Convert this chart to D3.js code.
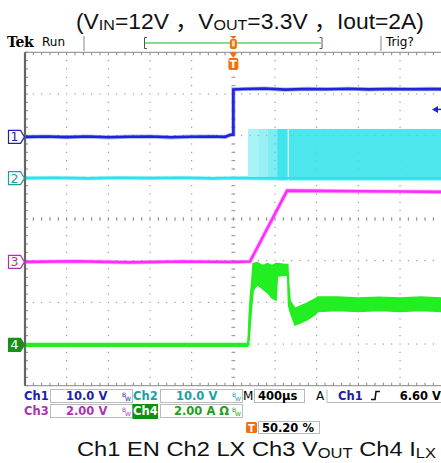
<!DOCTYPE html>
<html><head><meta charset="utf-8">
<script src="https://cdn.jsdelivr.net/npm/d3@7"></script>
<style>body{margin:0;background:#fff}svg{display:block}</style>
</head><body>
<svg id="c" width="441" height="463"></svg>
<script>
// ---------------- data ----------------
const timePerDiv = 400;                 // µs / div
const timeLabel = "400µs";
const triggerPosLabel = "50.20 %";
const triggerLevel = 6.60;              // Ch1, V
const triggerLabel = "6.60 V";
const channelNames = ["Ch1", "Ch2", "Ch3", "Ch4"];
const channelPerDiv = [10, 10, 2, 2];
const channelScaleLabels = ["10.0 V", "10.0 V", "2.00 V", "2.00 A Ω"];
const channelOffsets = [1.97, 0.98, -1.03, -3.02];   // divisions
const titleParts = [["(V", 0], ["IN", 1], ["=12V ，V", 0], ["OUT", 1], ["=3.3V ，Iout=2A)", 0]];
const captionParts = [["Ch1 EN Ch2 LX Ch3 V", 0], ["OUT", 1], [" Ch4 I", 0], ["LX", 1]];

// Ch1 EN [µs, V]
const ch1EN = [[-2000,0.0],[-1800,0.1],[-1600,-0.05],[-1400,0.1],[-1200,-0.1],[-1000,0.05],[-800,0.1],[-600,-0.1],[-400,0.05],[-200,0.1],[-80,0.0],[-40,0.4],[-5,0.6],[0,0.6],[0,11.4],[100,11.5],[300,11.6],[500,11.35],[700,11.5],[900,11.45],[1100,11.55],[1300,11.4],[1500,11.5],[1700,11.45],[1900,11.5],[2000,11.45]];
// Ch2 LX idle [µs, V]
const ch2Idle = [[-2000,0.0],[-1700,0.1],[-1400,-0.05],[-1100,0.1],[-800,0.0],[-500,0.1],[-200,-0.05],[0,0.05],[141,0.0]];
// Ch2 LX switching bursts [start µs, end µs, fill density]
const ch2BurstStart = [141, 240, 330, 420, 532];
const ch2BurstEnd   = [240, 330, 420, 522, 2000];
const ch2BurstDensity = [0.42, 0.5, 0.62, 0.9, 0.85];
const ch2High = 11.8, ch2Low = -0.55;
// Ch3 VOUT [µs, V]
const ch3Vout = [[-2000,0.0],[-1500,0.03],[-1000,-0.02],[-500,0.02],[0,0.0],[160,0.02],[516,3.42],[800,3.41],[1200,3.39],[1600,3.38],[2000,3.36]];
// Ch4 IL envelope [µs, low A, high A]
const ch4IL = [[-2000,-0.06,0.06],[-1000,-0.06,0.06],[0,-0.06,0.06],[138,-0.06,0.06],[145,0.0,0.5],[152,0.3,1.4],[165,1.2,2.4],[175,1.8,2.9],[190,2.6,3.9],[230,2.9,3.95],[280,2.7,3.8],[330,2.5,3.9],[370,2.25,3.8],[410,2.15,3.9],[422,3.3,3.9],[500,3.35,3.85],[522,3.3,3.85],[530,1.9,3.0],[545,1.6,2.1],[592,0.95,1.75],[640,1.05,1.85],[707,1.2,2.0],[784,1.45,2.2],[810,1.6,2.3],[1000,1.65,2.3],[1200,1.6,2.25],[1400,1.65,2.28],[1600,1.6,2.25],[1800,1.65,2.3],[2000,1.6,2.25]];

// ---------------- drawing ----------------
const svg = d3.select("#c");
const X0 = 25, X1 = 441.7, Y0 = 52.3, Y1 = 385.7;
const x = d3.scaleLinear().domain([-5*timePerDiv, 5*timePerDiv]).range([X0, X1]);
const yd = d3.scaleLinear().domain([-4, 4]).range([Y1, Y0]);
const chY = (i, v) => yd(v / channelPerDiv[i] + channelOffsets[i]);
const divPx = (X1 - X0) / 10;
const traceCol = ["#1d24dc", "#2fe2ea", "#ff2cff", "#22ee22"];
const labelCol = ["#2020a8", "#1aa0a0", "#b030b0", "#20a020"];

// fit a text element horizontally between x0 and x1
function fitText(sel, x0, x1) {
  const b = sel.node().getBBox();
  const s = (x1 - x0) / b.width;
  sel.attr("transform", `translate(${x0 - b.x * s},0) scale(${s},1)`);
}

// grid
const g = svg.append("g");
const gridCol = "#6f6f6f";
for (let i = -4; i <= 4; i++) {
  const xx = x(i * timePerDiv);
  d3.range(0, 40).forEach(k => {
    const yy = Y0 + k * divPx / 5;
    if (k % 5 === 0) return;
    g.append("rect").attr("x", xx - 0.5).attr("y", yy - 0.5).attr("width", 1).attr("height", 1).attr("fill", gridCol);
  });
}
for (let j = -3; j <= 3; j++) {
  const yy = yd(j);
  d3.range(0, 51).forEach(k => {
    const xx = X0 + k * divPx / 5;
    g.append("rect").attr("x", xx - 0.5).attr("y", yy - 0.5).attr("width", 1).attr("height", 1).attr("fill", gridCol);
  });
}
// center cross ticks
d3.range(0, 51).forEach(k => {
  const xx = X0 + k * divPx / 5;
  g.append("line").attr("x1", xx).attr("x2", xx).attr("y1", yd(0) - 2).attr("y2", yd(0) + 2).attr("stroke", "#888").attr("stroke-width", 0.8);
});
d3.range(0, 41).forEach(k => {
  const yy = Y0 + k * divPx / 5;
  g.append("line").attr("y1", yy).attr("y2", yy).attr("x1", x(0) - 2).attr("x2", x(0) + 2).attr("stroke", "#888").attr("stroke-width", 0.8);
});
// frame rulers
g.append("line").attr("x1", X0).attr("x2", 441).attr("y1", Y0).attr("y2", Y0).attr("stroke", "#888");
g.append("line").attr("x1", X0).attr("x2", 441).attr("y1", Y1).attr("y2", Y1).attr("stroke", "#888");
d3.range(0, 51).forEach(k => {
  const xx = X0 + k * divPx / 5;
  g.append("line").attr("x1", xx).attr("x2", xx).attr("y1", Y0).attr("y2", Y0 + 3).attr("stroke", "#888");
  g.append("line").attr("x1", xx).attr("x2", xx).attr("y1", Y1 - 3).attr("y2", Y1).attr("stroke", "#888");
});
d3.range(0, 41).forEach(k => {
  const yy = Y0 + k * divPx / 5;
  g.append("line").attr("y1", yy).attr("y2", yy).attr("x1", X0).attr("x2", X0 + 3).attr("stroke", "#888");
});
g.append("line").attr("x1", X0).attr("x2", X0).attr("y1", Y0).attr("y2", Y1).attr("stroke", "#666").attr("stroke-width", 2.2);

// clip
svg.append("clipPath").attr("id", "clp").append("rect").attr("x", X0 + 1).attr("y", Y0).attr("width", X1 - X0).attr("height", Y1 - Y0);
const tr = svg.append("g").attr("clip-path", "url(#clp)");

// Ch2 bursts
ch2BurstStart.forEach((s, k) => {
  tr.append("rect").attr("x", x(s)).attr("width", x(ch2BurstEnd[k]) - x(s))
    .attr("y", chY(1, ch2High)).attr("height", chY(1, ch2Low) - chY(1, ch2High))
    .attr("fill", traceCol[1]).attr("opacity", ch2BurstDensity[k]);
});
tr.append("line").attr("x1", x(ch2BurstStart[0])).attr("x2", X1).attr("y1", chY(1, 0)).attr("y2", chY(1, 0))
  .attr("stroke", traceCol[1]).attr("stroke-width", 2.5);
const line = (i) => d3.line().x(d => x(d[0])).y(d => chY(i, d[1]));
const drawTrace = (data, i) => {
  tr.append("path").datum(data).attr("d", line(i)).attr("fill", "none").attr("stroke", traceCol[i]).attr("stroke-width", 4.2).attr("opacity", 0.35);
  tr.append("path").datum(data).attr("d", line(i)).attr("fill", "none").attr("stroke", traceCol[i]).attr("stroke-width", 2.6);
};
drawTrace(ch2Idle, 1);
drawTrace(ch1EN, 0);
drawTrace(ch3Vout, 2);
// Ch4
const area4 = d3.area().x(d => x(d[0])).y0(d => chY(3, d[1])).y1(d => chY(3, d[2]));
tr.append("path").datum(ch4IL).attr("d", area4).attr("fill", traceCol[3]).attr("stroke", traceCol[3]).attr("stroke-width", 1.6);

// trigger level arrow
const ty = chY(0, triggerLevel);
svg.append("path").attr("d", `M432,${ty} L438,${ty-3.5} L438,${ty+3.5} Z`).attr("fill", traceCol[0]);
svg.append("line").attr("x1", 436).attr("x2", 441).attr("y1", ty).attr("y2", ty).attr("stroke", traceCol[0]).attr("stroke-width", 1.5);

// channel ground markers
channelNames.forEach((n, i) => {
  const yy = chY(i, 0);
  const mg = svg.append("g").attr("transform", `translate(0,${yy})`);
  mg.append("path").attr("d", "M8.5,-6.5 L20.5,-6.5 L24.5,0 L20.5,6.5 L8.5,6.5 Z")
    .attr("fill", i === 3 ? "#1a901a" : "#fff").attr("stroke", i === 3 ? "#1a901a" : labelCol[i]).attr("stroke-width", 1.2);
  mg.append("text").attr("x", 14.5).attr("y", 4.5).attr("text-anchor", "middle")
    .attr("font-family", "DejaVu Sans").attr("font-size", 12.5)
    .attr("fill", i === 3 ? "#fff" : labelCol[i]).text(n.slice(2));
});

// trigger time markers
const tx = x(0);
const orange = "#f07010";
svg.append("path").attr("d", `M${tx-4},${52.5} L${tx+4},${52.5} L${tx},${58} Z`).attr("fill", orange);
svg.append("rect").attr("x", tx - 5).attr("y", 58).attr("width", 10).attr("height", 12).attr("rx", 2).attr("fill", orange);
svg.append("text").attr("x", tx).attr("y", 68).attr("text-anchor", "middle").attr("font-family", "DejaVu Sans").attr("font-weight", "bold").attr("font-size", 11).attr("fill", "#fff").text("T");

// header
const hdr = svg.append("g").attr("font-family", "DejaVu Sans");
hdr.append("text").attr("x", 7).attr("y", 46.5).attr("font-weight", "bold").attr("font-size", 14).attr("font-family", "DejaVu Serif").attr("letter-spacing", -0.3).text("Tek");
hdr.append("text").attr("x", 42).attr("y", 46).attr("font-size", 12).text("Run");
hdr.append("line").attr("x1", 84).attr("x2", 84).attr("y1", 36).attr("y2", 51).attr("stroke", "#888");
hdr.append("line").attr("x1", 381).attr("x2", 381).attr("y1", 36).attr("y2", 51).attr("stroke", "#888");
hdr.append("text").attr("x", 386).attr("y", 46).attr("font-size", 12).text("Trig?");
hdr.append("path").attr("d", "M147,37.5 L144.5,37.5 L144.5,48.5 L147,48.5").attr("fill", "none").attr("stroke", "#555");
hdr.append("path").attr("d", "M319.5,37.5 L322,37.5 L322,48.5 L319.5,48.5").attr("fill", "none").attr("stroke", "#555");
hdr.append("line").attr("x1", 145).attr("x2", 322).attr("y1", 43).attr("y2", 43).attr("stroke", "#8ed88e").attr("stroke-width", 2);
hdr.append("path").attr("d", `M${tx-3.5},36 L${tx+3.5},36 L${tx},39 Z`).attr("fill", orange);
hdr.append("rect").attr("x", tx - 3.5).attr("y", 39).attr("width", 7).attr("height", 10).attr("rx", 2).attr("fill", orange);
hdr.append("rect").attr("x", tx - 1.5).attr("y", 40.5).attr("width", 3).attr("height", 6).attr("fill", "#fbd3a8");

// title
const title = svg.append("text").attr("x", 0).attr("y", 29)
  .attr("font-family", "Liberation Sans, Arial, Noto Sans CJK SC").attr("font-size", 22).attr("fill", "#111");
titleParts.forEach(([t, sub], k) => title.append("tspan").attr("font-size", sub ? 15.5 : 22).attr("dy", sub ? 1.2 : (k > 0 ? -1.2 : 0)).text(t));
fitText(title, 76, 424);

// caption
const cap = svg.append("text").attr("x", 0).attr("y", 456.5)
  .attr("font-family", "Liberation Sans, Arial").attr("font-size", 20).attr("fill", "#111");
captionParts.forEach(([t, sub], k) => cap.append("tspan").attr("font-size", sub ? 14 : 20).attr("dy", sub ? 2 : (k > 0 ? -2 : 0)).text(t));
fitText(cap, 77, 437);

// bottom readout
const rd = svg.append("g").attr("font-family", "DejaVu Sans").attr("font-weight", "bold").attr("font-size", 11.5);
const box = (x0, y0, w, h) => rd.append("rect").attr("x", x0 + 0.5).attr("y", y0 + 0.5).attr("width", w).attr("height", h).attr("fill", "none").attr("stroke", "#bbb");
const bw = (xx, yy, col) => {
  rd.append("text").attr("x", xx).attr("y", yy - 3).attr("font-size", 6).attr("font-weight", "normal").attr("fill", col).text("B");
  rd.append("text").attr("x", xx + 3).attr("y", yy + 1).attr("font-size", 6).attr("font-weight", "normal").attr("fill", col).text("W");
};
const rowY = [399.5, 414.5];
const chX = [24, 133, 24, 133];
const boxX = [50, 160, 50, 160];
channelNames.forEach((n, i) => {
  const yy = rowY[i < 2 ? 0 : 1];
  if (i === 3) rd.append("rect").attr("x", 132.5).attr("y", 404).attr("width", 25.5).attr("height", 15).attr("fill", "#109010");
  rd.append("text").attr("x", chX[i]).attr("y", yy).attr("fill", i === 3 ? "#fff" : labelCol[i]).text(n);
  box(boxX[i], yy - 10.5, 82, 13);
  rd.append("text").attr("x", boxX[i] + (i === 3 ? 14 : 16)).attr("y", yy).attr("fill", labelCol[i]).text(channelScaleLabels[i]);
  bw(boxX[i] + 72, yy, labelCol[i]);
});
rd.append("text").attr("x", 243).attr("y", rowY[0]).attr("font-weight", "normal").attr("font-size", 12).text("M");
box(254, rowY[0] - 10.5, 50, 13);
rd.append("text").attr("x", 258).attr("y", rowY[0]).text(timeLabel);
rd.append("text").attr("x", 316).attr("y", rowY[0]).attr("font-weight", "normal").attr("font-size", 12).text("A");
rd.append("line").attr("x1", 327).attr("x2", 327).attr("y1", rowY[0] - 10).attr("y2", rowY[0] + 3).attr("stroke", "#bbb");
rd.append("line").attr("x1", 327).attr("x2", 441).attr("y1", rowY[0] + 3).attr("y2", rowY[0] + 3).attr("stroke", "#bbb");
rd.append("text").attr("x", 338).attr("y", rowY[0]).attr("fill", labelCol[0]).text("Ch1");
rd.append("path").attr("d", `M371,${rowY[0]} L375,${rowY[0]} L376,${rowY[0]-8} L380,${rowY[0]-8}`).attr("fill", "none").attr("stroke", "#111").attr("stroke-width", 1.6);
rd.append("text").attr("x", 441).attr("y", rowY[0]).attr("text-anchor", "end").text(triggerLabel);
rd.append("rect").attr("x", 246).attr("y", 422).attr("width", 11).attr("height", 11).attr("rx", 1.5).attr("fill", orange);
rd.append("text").attr("x", 251.5).attr("y", 431.5).attr("text-anchor", "middle").attr("fill", "#fff").attr("font-size", 10).text("T");
box(258, 421, 61, 12);
rd.append("text").attr("x", 262).attr("y", 431.5).text(triggerPosLabel);
</script>
</body></html>
